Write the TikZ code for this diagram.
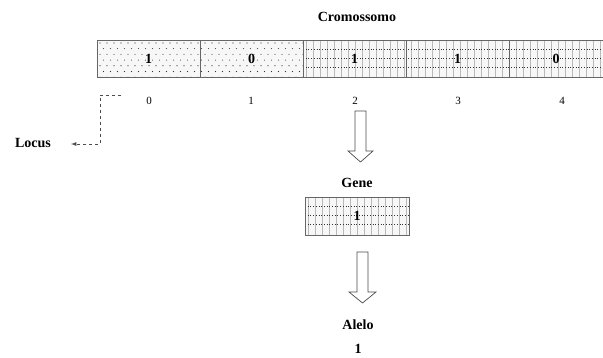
\documentclass[tikz,border=0pt]{standalone}
\usepackage{fontspec}
\setmainfont{Liberation Serif}
\newcommand{\mydotpat}[4]{% x1 y1 x2 y2
  \begin{scope}
  \clip (#1,#2) rectangle (#3,#4);
  \fill[gray!6] (#1,#2) rectangle (#3,#4);
  \foreach \r in {0,...,7}{
    \foreach \c in {0,...,45}{
      \pgfmathsetmacro{\xx}{#1+3+\c*7+mod(\r,2)*3.5}
      \pgfmathsetmacro{\yy}{#2+3+\r*5.7}
      \fill[black!80] (\xx,\yy) circle (0.55pt);
    }
  }
  \end{scope}}
\newcommand{\mygridpat}[4]{%
  \begin{scope}
  \clip (#1,#2) rectangle (#3,#4);
  \fill[gray!6] (#1,#2) rectangle (#3,#4);
  \foreach \c in {0,...,45}{
    \draw[gray!55, line width=0.6pt] ({#1+3.5+\c*7},#2) -- ({#1+3.5+\c*7},#4);
  }
  \foreach \r in {1,...,3}{
    \draw[black!80, dotted, line width=0.7pt] (#1,{#2+\r*9.2}) -- (#3,{#2+\r*9.2});
  }
  \end{scope}}
\begin{document}
\begin{tikzpicture}[x=1pt,y=-1pt,
  lbl/.style={font=\fontsize{14}{16}\selectfont\bfseries, inner sep=0pt},
  idx/.style={font=\fontsize{11}{13}\selectfont, inner sep=0pt},
  cellbox/.style={draw=gray!80!black, line width=0.8pt, minimum width=103pt, minimum height=37pt, inner sep=0pt, font=\fontsize{14}{16}\selectfont\bfseries},
  bigarrow/.style={draw=gray!60!black, line width=0.7pt, fill=white},
  locusline/.style={draw=gray!60!black, dashed, line width=0.8pt, -latex}
]
\useasboundingbox (0,0) rectangle (603,358);
% chromosome
\mydotpat{97}{40}{303}{77}
\mygridpat{303}{40}{603}{77}
\node[lbl] (title) at (357,17) {Cromossomo};
\node[cellbox] (c0) at (148.5,58.5) {1};
\node[cellbox] (c1) at (251.5,58.5) {0};
\node[cellbox] (c2) at (354.5,58.5) {1};
\node[cellbox] (c3) at (457.5,58.5) {1};
\node[cellbox, minimum width=94pt] (c4) at (556,58.5) {0};
\node[idx] (i0) at (149,101) {0};
\node[idx] (i1) at (251,101) {1};
\node[idx] (i2) at (355,101) {2};
\node[idx] (i3) at (458,101) {3};
\node[idx] (i4) at (562,101) {4};
% locus
\node[lbl] (locus) at (33,143) {Locus};
\coordinate (ls) at (121,95);
\draw[locusline] (ls) -- (100,95) -- (100,144) -- ([xshift=20pt]locus.east |- 0,144);
% arrow 1
\draw[bigarrow] (355,111) -- (366,111) -- (366,151) -- (373,151) -- (360.5,162) -- (348,151) -- (355,151) -- cycle;
% gene
\node[lbl] (gene) at (357,183) {Gene};
\mygridpat{305}{197}{409}{235}
\node[cellbox, minimum width=104pt, minimum height=38pt] (g) at (357,216) {1};
% arrow 2
\draw[bigarrow] (357,252) -- (368,252) -- (368,292) -- (376,292) -- (362.5,303) -- (349,292) -- (357,292) -- cycle;
\node[lbl] (alelo) at (358,325) {Alelo};
\node[lbl] (a1) at (358,349) {1};
\end{tikzpicture}
\end{document}
